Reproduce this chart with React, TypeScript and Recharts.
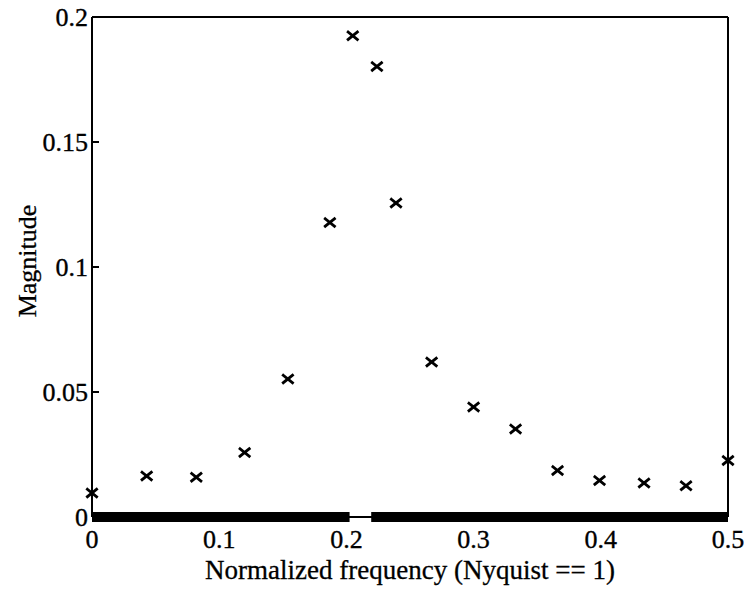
import * as React from 'react';
import { ScatterChart, Scatter, XAxis, YAxis, ReferenceLine } from 'recharts';

// Spectrum samples: normalized frequency vs. magnitude
const frequency = [0, 0.043, 0.082, 0.12, 0.154, 0.187, 0.205, 0.224, 0.239, 0.267, 0.3, 0.333, 0.366, 0.399, 0.434, 0.467, 0.5];
const magnitude = [0.0096, 0.0164, 0.0159, 0.0258, 0.0552, 0.1178, 0.1925, 0.1802, 0.1256, 0.062, 0.044, 0.0352, 0.0186, 0.0146, 0.0136, 0.0125, 0.0226];

const xTicks = [0, 0.1, 0.2, 0.3, 0.4, 0.5];
const yTicks = [0, 0.05, 0.1, 0.15, 0.2];

// the heavy baseline is broken by a short thin stretch
const baselineBreak = [0.2025, 0.2195];

const points = frequency.map((f, i) => ({ f, m: magnitude[i] }));

const serif = '"Liberation Serif", "Times New Roman", serif';
const tickStyle = { fill: '#000', stroke: '#000', strokeWidth: 0.35, fontSize: 26, fontFamily: serif };
const frame = { stroke: '#000', strokeWidth: 2 };

const XMark = (props: any) => {
    const { cx, cy } = props;
    const r = 4.6;
    return (
        <g stroke="#000" strokeWidth={2.8} strokeLinecap="square">
            <line x1={cx - r} y1={cy - r * 0.8} x2={cx + r} y2={cy + r * 0.8} />
            <line x1={cx - r} y1={cy + r * 0.8} x2={cx + r} y2={cy - r * 0.8} />
        </g>
    );
};

const MagnitudeLabel = ({ viewBox }: any) => {
    const x = viewBox.x + 15;
    const y = viewBox.y + viewBox.height / 2 - 6;
    return (
        <text x={x} y={y} transform={`rotate(-90 ${x} ${y})`} textAnchor="middle" dominantBaseline="central"
            fontFamily={serif} fontSize={26} fill="#000" stroke="#000" strokeWidth={0.3}>
            Magnitude
        </text>
    );
};

const App: React.FC = () => {
    return (
        <div style={{ position: 'absolute', left: 0, top: 0, width: 747, height: 595, background: '#fff' }}>
            <ScatterChart width={747} height={595} margin={{ top: 0, right: 0, bottom: 0, left: 12 }}>
                <XAxis xAxisId="b" dataKey="f" type="number" domain={[0, 0.5]} ticks={xTicks} height={78}
                    axisLine={frame} tickLine={false} tickSize={0} tickMargin={13}
                    tick={tickStyle} interval={0}
                    label={{ value: 'Normalized frequency (Nyquist == 1)', position: 'insideBottom', offset: 16,
                        fill: '#000', stroke: '#000', strokeWidth: 0.3, fontSize: 27, fontFamily: serif }} />
                <XAxis xAxisId="t" orientation="top" type="number" domain={[0, 0.5]} ticks={xTicks} height={17}
                    axisLine={frame} tickLine={frame} tickSize={-7} tick={false} />
                <YAxis yAxisId="l" dataKey="m" type="number" domain={[0, 0.2]} ticks={yTicks} width={80}
                    axisLine={frame} tickLine={frame}
                    tickSize={-7} tickMargin={11} tick={tickStyle} interval={0}
                    label={<MagnitudeLabel />} />
                <YAxis yAxisId="r" orientation="right" type="number" domain={[0, 0.2]} ticks={yTicks} width={19}
                    axisLine={frame} tickLine={frame} tickSize={-7} tick={false} />
                <ReferenceLine xAxisId="b" yAxisId="l" segment={[{ x: 0, y: 0 }, { x: baselineBreak[0], y: 0 }]}
                    stroke="#000" strokeWidth={10} />
                <ReferenceLine xAxisId="b" yAxisId="l" segment={[{ x: baselineBreak[1], y: 0 }, { x: 0.5, y: 0 }]}
                    stroke="#000" strokeWidth={10} />
                <Scatter xAxisId="b" yAxisId="l" data={points} shape={<XMark />} isAnimationActive={false} />
            </ScatterChart>
        </div>
    );
};

export default App;
